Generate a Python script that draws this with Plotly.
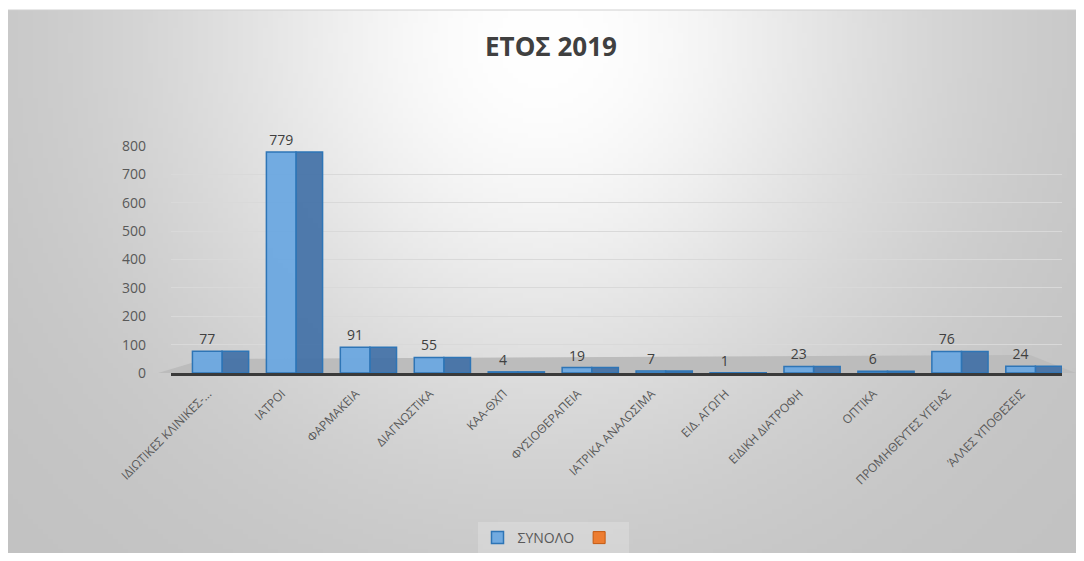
"""ΕΤΟΣ 2019 - bar chart per category (Excel style recreation)."""

import base64
import struct
import zlib

import numpy as np
import plotly.graph_objects as go

categories = [
    "ΙΔΙΩΤΙΚΕΣ ΚΛΙΝΙΚΕΣ-...",
    "ΙΑΤΡΟΙ",
    "ΦΑΡΜΑΚΕΙΑ",
    "ΔΙΑΓΝΩΣΤΙΚΑ",
    "ΚΑΑ-ΘΧΠ",
    "ΦΥΣΙΟΘΕΡΑΠΕΙΑ",
    "ΙΑΤΡΙΚΑ ΑΝΑΛΩΣΙΜΑ",
    "ΕΙΔ. ΑΓΩΓΗ",
    "ΕΙΔΙΚΗ ΔΙΑΤΡΟΦΗ",
    "ΟΠΤΙΚΑ",
    "ΠΡΟΜΗΘΕΥΤΕΣ ΥΓΕΙΑΣ",
    "ΆΛΛΕΣ ΥΠΟΘΕΣΕΙΣ",
]
synolo = [77, 779, 91, 55, 4, 19, 7, 1, 23, 6, 76, 24]
y_ticks = [0, 100, 200, 300, 400, 500, 600, 700, 800]

# the page body has an 8px margin all round, so the figure is kept inside it
OFF = 8
W_FIG, H_FIG = 1084 - 2 * OFF, 561 - 2 * OFF
L = 171 - OFF
R = W_FIG - (1062 - OFF)
T = 146 - OFF
B = H_FIG - (373 - OFF)
PW = W_FIG - L - R
PH = H_FIG - T - B


def px2x(px):
    """Screen pixel x -> paper x."""
    return (px - OFF - L) / PW


def py2y(py):
    """Screen pixel y -> paper y."""
    return (H_FIG - B - (py - OFF)) / PH


def gradient_png(w=216, h=110):
    """Radial grey gradient (white near the title) as a PNG data uri."""
    xs = np.linspace(6, 1084, w)
    ys = np.linspace(10, 561, h)
    gx, gy = np.meshgrid(xs, ys)
    r = np.hypot(gx - 542, gy - 40) / 560
    val = 255 - 62 * (1 - np.exp(-((r / 0.68) ** 2)))
    img = np.clip(val, 0, 255).astype(np.uint8)
    img = np.repeat(img[:, :, None], 3, axis=2)
    raw = b"".join(b"\x00" + row.tobytes() for row in img)

    def chunk(tag, data):
        return (
            struct.pack(">I", len(data))
            + tag
            + data
            + struct.pack(">I", zlib.crc32(tag + data) & 0xFFFFFFFF)
        )

    png = (
        b"\x89PNG\r\n\x1a\n"
        + chunk(b"IHDR", struct.pack(">IIBBBBB", w, h, 8, 2, 0, 0, 0))
        + chunk(b"IDAT", zlib.compress(raw, 9))
        + chunk(b"IEND", b"")
    )
    return "data:image/png;base64," + base64.b64encode(png).decode()


font_main = "Open Sans, sans-serif"

fig = go.Figure()
# darker side face of the pseudo-3D columns
fig.add_trace(
    go.Bar(
        x=categories,
        y=synolo,
        width=0.36,
        offset=0.19,
        marker={"color": "rgba(62,110,165,0.9)", "line": {"color": "#2e75b6", "width": 1.5}},
        showlegend=False,
        hoverinfo="skip",
    )
)
# front face
fig.add_trace(
    go.Bar(
        x=categories,
        y=synolo,
        name="ΣΥΝΟΛΟ",
        width=0.4,
        offset=-0.21,
        marker={"color": "rgba(108,168,224,0.95)", "line": {"color": "#2e75b6", "width": 1.5}},
        text=synolo,
        textposition="outside",
        textfont={"size": 14, "color": "#404040", "family": font_main},
        cliponaxis=False,
    )
)
# empty second series (orange legend entry only)
fig.add_trace(
    go.Bar(
        x=[categories[0]],
        y=[None],
        name=" ",
        marker={"color": "#ed7d31", "line": {"color": "#c55a11", "width": 1}},
    )
)

fig.update_layout(
    width=W_FIG,
    height=H_FIG,
    margin={"l": L, "r": R, "t": T, "b": B, "autoexpand": False},
    paper_bgcolor="white",
    plot_bgcolor="rgba(0,0,0,0)",
    barmode="overlay",
    font={"family": font_main, "color": "#595959"},
    title={
        "text": "<b>ΕΤΟΣ 2019</b>",
        "x": (551 - OFF) / W_FIG,
        "xanchor": "center",
        "y": 1 - (47 - OFF) / H_FIG,
        "yanchor": "middle",
        "font": {"size": 26, "color": "#404040", "family": font_main},
    },
    xaxis={
        "tickangle": -45,
        "tickfont": {"size": 12, "color": "#595959"},
        "showline": True,
        "linecolor": "#3a3a3a",
        "linewidth": 3,
        "showgrid": False,
        "automargin": False,
        "ticklabelstandoff": 6,
    },
    yaxis={
        "range": [0, 800],
        "tickvals": y_ticks,
        "tickfont": {"size": 14, "color": "#595959"},
        "showgrid": True,
        "gridcolor": "#d9d9d9",
        "gridwidth": 1,
        "zeroline": False,
        "automargin": False,
        "ticklabelstandoff": 24,
    },
    legend={
        "orientation": "h",
        "xref": "container",
        "yref": "container",
        "x": (553 - OFF) / W_FIG,
        "xanchor": "center",
        "y": 1 - (538 - OFF) / H_FIG,
        "yanchor": "middle",
        "font": {"size": 14, "color": "#595959"},
        "bgcolor": "rgba(255,255,255,0.2)",
        "itemwidth": 30,
    },
    showlegend=True,
    images=[
        {
            "source": gradient_png(),
            "xref": "paper",
            "yref": "paper",
            "x": px2x(6),
            "y": py2y(10),
            "sizex": (1084 - 6) / PW,
            "sizey": (561 - 10) / PH,
            "xanchor": "left",
            "yanchor": "top",
            "sizing": "stretch",
            "layer": "below",
        }
    ],
    shapes=[
        # chart frame
        {
            "type": "rect",
            "xref": "paper",
            "yref": "paper",
            "x0": px2x(6),
            "x1": px2x(1095),
            "y0": py2y(575),
            "y1": py2y(10),
            "line": {"color": "#d0d0d0", "width": 1},
            "layer": "below",
        },
        # grey floor
        {
            "type": "path",
            "xref": "paper",
            "yref": "paper",
            "path": "M {} {} L {} {} L {} {} L {} {} Z".format(
                px2x(158), py2y(373), px2x(205), py2y(359),
                px2x(1030), py2y(355), px2x(1076), py2y(373),
            ),
            "fillcolor": "#bcbcbc",
            "line": {"width": 0},
            "layer": "below",
        },
    ],
)

fig.write_html("out.html")
